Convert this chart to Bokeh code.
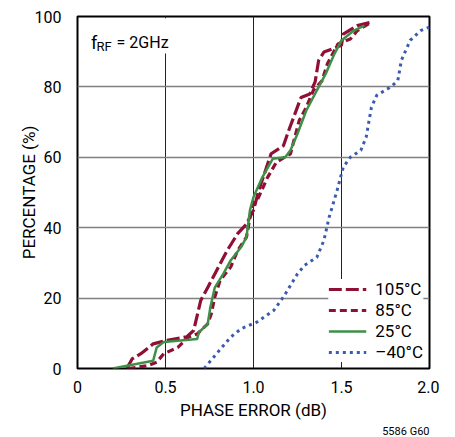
from bokeh.plotting import figure
from bokeh.models import Label, BoxAnnotation, Legend, LegendItem, FixedTicker, Title
from bokeh.embed import file_html
from bokeh.resources import INLINE

FONT = "Roboto"

# ---- data ----
x_105 = [0.28, 0.31, 0.36, 0.43, 0.51, 0.62, 0.66, 0.70, 0.74, 0.79, 0.85, 0.91, 0.96, 1.00,
         1.03, 1.10, 1.17, 1.20, 1.27, 1.32, 1.35, 1.37, 1.40, 1.50, 1.51, 1.59, 1.67]
y_105 = [0, 2.7, 4.2, 7, 8, 9, 10.8, 19.3, 23, 27.8, 33.5, 38.3, 41, 45,
         50.6, 61, 63.3, 67.6, 77, 78, 81.4, 87.5, 89.9, 91.8, 95, 97.4, 98.4]

x_85 = [0.29, 0.40, 0.45, 0.49, 0.57, 0.63, 0.68, 0.74, 0.76, 0.78, 0.81, 0.87, 0.91, 0.96, 0.99,
        1.02, 1.08, 1.13, 1.21, 1.23, 1.26, 1.30, 1.34, 1.39, 1.42, 1.48, 1.55, 1.59, 1.67]
y_85 = [0, 0.8, 1.8, 4.2, 6, 8.9, 9.8, 12.7, 15.5, 20.3, 25, 28.8, 33.5, 37.3, 45.8,
        47.7, 54.3, 58.6, 61, 64.8, 70.5, 74.2, 79, 81.8, 86.6, 92.2, 93.6, 96, 98.4]

x_25 = [0.20, 0.43, 0.45, 0.49, 0.68, 0.69, 0.74, 0.755, 0.78, 0.83, 0.87, 0.93, 0.96, 0.98,
        1.00, 1.05, 1.11, 1.18, 1.21, 1.25, 1.30, 1.36, 1.41, 1.46, 1.50, 1.57, 1.63]
y_25 = [0, 2.2, 6, 7.5, 8.4, 10.3, 12.7, 17.4, 23, 27, 30.7, 34.5, 37.3, 45,
        48.7, 54.3, 59.6, 60, 62, 66.7, 73.3, 79, 83.7, 89.4, 93.2, 96, 97.4]

x_m40 = [0.72, 0.79, 0.87, 0.93, 1.02, 1.115, 1.17, 1.25, 1.29, 1.36, 1.40, 1.43, 1.475,
         1.51, 1.55, 1.61, 1.64, 1.67, 1.70, 1.78, 1.82, 1.84, 1.89, 1.95, 2.0]
y_m40 = [0, 4.2, 8.9, 11.3, 13.2, 16.5, 20.3, 26.9, 29.3, 31.6, 36.4, 43, 50.6,
         57.2, 60, 62, 65.7, 74.2, 77.6, 80, 81.8, 87.5, 93.2, 96, 97]

x_ticks = [0, 0.5, 1.0, 1.5, 2.0]
x_tick_labels = ["0", "0.5", "1.0", "1.5", "2.0"]
y_ticks = [0, 20, 40, 60, 80, 100]
labels = ["105°C", "85°C", "25°C", "\u201340°C"]

RED = "#8E1035"
GREEN = "#3E8F48"
BLUE = "#3A5BAE"

p = figure(width=439, height=437, x_range=(0, 2), y_range=(0, 100),
           frame_width=352, frame_height=352,
           output_backend="svg", toolbar_location=None,
           min_border_left=77, min_border_right=10, min_border_top=16, min_border_bottom=69)
p.background_fill_color = "white"
p.border_fill_color = "white"
p.outline_line_color = "black"
p.outline_line_width = 2

p.xaxis.ticker = FixedTicker(ticks=x_ticks)
p.xaxis.major_label_overrides = {t: l for t, l in zip(x_ticks, x_tick_labels)}
p.yaxis.ticker = FixedTicker(ticks=y_ticks)
for ax in (p.xaxis[0], p.yaxis[0]):
    ax.axis_line_color = None
    ax.major_tick_line_color = None
    ax.minor_tick_line_color = None
    ax.major_label_text_font = FONT
    ax.major_label_text_font_size = "16px"
    ax.major_label_text_color = "black"
    ax.axis_label_text_font = FONT
    ax.axis_label_text_font_size = "17px"
    ax.axis_label_text_font_style = "normal"
    ax.axis_label_text_color = "black"
p.xaxis.axis_label = "PHASE ERROR (dB)"
p.yaxis.axis_label = "PERCENTAGE (%)"
p.xaxis.major_label_standoff = 6
p.xaxis.axis_label_standoff = 4
p.yaxis.major_label_standoff = 10
p.yaxis.axis_label_standoff = -7

p.xgrid.grid_line_color = "#222222"
p.xgrid.grid_line_width = 1
p.ygrid.grid_line_color = "#808080"
p.ygrid.grid_line_width = 1.5

# white patch behind the f_RF annotation
p.add_layout(BoxAnnotation(left=0.02, right=0.6, bottom=89.5, top=99.5,
                           fill_color="white", fill_alpha=1, line_color=None, level="underlay"))

r105 = p.line(x_105, y_105, line_color=RED, line_width=3.2, line_dash="13 4")
r85 = p.line(x_85, y_85, line_color=RED, line_width=3.2, line_dash="7 4")
r25 = p.line(x_25, y_25, line_color=GREEN, line_width=2.5)
rm40 = p.line(x_m40, y_m40, line_color=BLUE, line_width=3, line_dash="3 4")

legend = Legend(items=[LegendItem(label=labels[0], renderers=[r105]),
                       LegendItem(label=labels[1], renderers=[r85]),
                       LegendItem(label=labels[2], renderers=[r25]),
                       LegendItem(label=labels[3], renderers=[rm40])],
                location="bottom_right")
legend.label_text_font = FONT
legend.label_text_font_size = "17px"
legend.label_text_color = "black"
legend.glyph_width = 38
legend.glyph_height = 20
legend.label_height = 20
legend.spacing = 1
legend.padding = 5
legend.margin = 6
legend.label_standoff = 9
legend.border_line_color = None
legend.background_fill_color = "white"
legend.background_fill_alpha = 1
p.add_layout(legend)

# f_RF = 2GHz
p.add_layout(Label(x=0.077, y=92.7, text="f", text_font=FONT, text_font_size="18px",
                   text_baseline="alphabetic", text_color="black"))
p.add_layout(Label(x=0.108, y=91.6, text="RF", text_font=FONT, text_font_size="13px",
                   text_baseline="alphabetic", text_color="black"))
p.add_layout(Label(x=0.222, y=92.7, text="= 2GHz", text_font=FONT, text_font_size="16px",
                   text_baseline="alphabetic", text_color="black"))

# figure code, below the x axis
code = Title(text="5586 G60", align="right", text_font=FONT, text_font_size="11px",
             text_font_style="normal", text_color="black", standoff=0, offset=0)
p.add_layout(code, "below")

open("out.html", "w").write(file_html(p, INLINE))
